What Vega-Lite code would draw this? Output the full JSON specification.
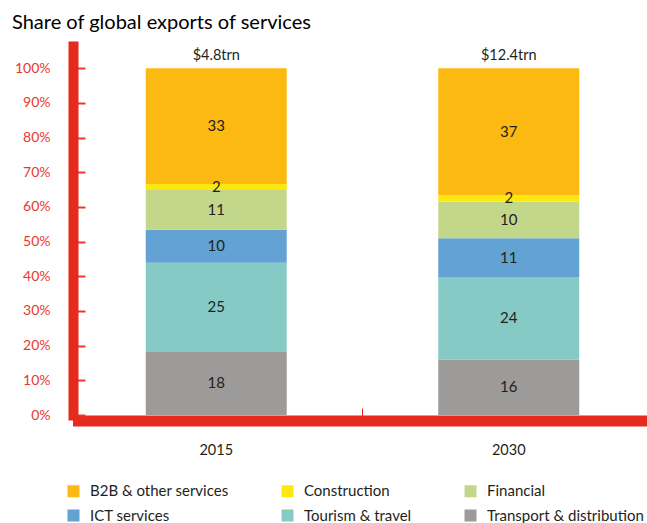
{
  "$schema": "https://vega.github.io/schema/vega-lite/v6.json",
  "width": 569,
  "height": 369,
  "autosize": "none",
  "padding": {"left": 78, "top": 46, "right": 0, "bottom": 108},
  "config": {
    "font": "Lato",
    "view": {"stroke": null},
    "axisY": {"labelOverlap": false, "tickCount": 11}
  },
  "title": {"text": "Share of global exports of services", "anchor": "start", "frame": "group", "fontSize": 20, "fontWeight": "normal", "color": "#000000", "dx": -66, "offset": 13},
  "datasets": {
    "shares": [
      {"year": "2015", "sector": "Transport & distribution", "rank": 1, "share": 18.2, "label": "18"},
      {"year": "2015", "sector": "Tourism & travel", "rank": 2, "share": 25.7, "label": "25"},
      {"year": "2015", "sector": "ICT services", "rank": 3, "share": 9.5, "label": "10"},
      {"year": "2015", "sector": "Financial", "rank": 4, "share": 11.5, "label": "11"},
      {"year": "2015", "sector": "Construction", "rank": 5, "share": 1.7, "label": "2"},
      {"year": "2015", "sector": "B2B & other services", "rank": 6, "share": 33.4, "label": "33"},
      {"year": "2030", "sector": "Transport & distribution", "rank": 1, "share": 15.9, "label": "16"},
      {"year": "2030", "sector": "Tourism & travel", "rank": 2, "share": 23.9, "label": "24"},
      {"year": "2030", "sector": "ICT services", "rank": 3, "share": 11.2, "label": "11"},
      {"year": "2030", "sector": "Financial", "rank": 4, "share": 10.5, "label": "10"},
      {"year": "2030", "sector": "Construction", "rank": 5, "share": 1.9, "label": "2"},
      {"year": "2030", "sector": "B2B & other services", "rank": 6, "share": 36.6, "label": "37"}
    ],
    "totals": [
      {"year": "2015", "top": 100, "total": "$4.8trn"},
      {"year": "2030", "top": 100, "total": "$12.4trn"}
    ]
  },
  "layer": [
    {
      "data": {"name": "shares"},
      "mark": {"type": "bar"},
      "encoding": {
        "x": {
          "field": "year", "type": "nominal",
          "scale": {"paddingInner": 0.518, "paddingOuter": 0.2316},
          "axis": {"title": null, "labelAngle": 0, "offset": 5.5, "domainColor": "#e52b1e", "domainWidth": 11, "domainCap": "square", "bandPosition": 1.537, "tickSize": -12.5, "tickColor": "#e52b1e", "tickWidth": 1, "labelFontSize": 14.5, "labelColor": "#231f20", "labelPadding": 35}
        },
        "y": {
          "field": "share", "type": "quantitative", "stack": "zero",
          "scale": {"domain": [0, 106.43], "nice": false, "zero": true},
          "axis": {"title": null, "values": [0, 10, 20, 30, 40, 50, 60, 70, 80, 90, 100], "labelOverlap": false, "labelExpr": "datum.value + '%'", "offset": 5, "domainColor": "#e52b1e", "domainWidth": 10, "domainCap": "square", "tickColor": "#e8392a", "tickSize": -12, "tickWidth": 2, "labelColor": "#e8392a", "labelFontSize": 14, "labelPadding": 35, "grid": false}
        },
        "color": {
          "field": "sector", "type": "nominal",
          "scale": {
            "domain": ["B2B & other services", "Construction", "Financial", "ICT services", "Tourism & travel", "Transport & distribution"],
            "range": ["#fbb912", "#fde711", "#c3d78a", "#62a3d4", "#86cac6", "#9c9b99"]
          },
          "legend": {"orient": "none", "legendX": -12, "legendY": 437.5, "direction": "horizontal", "columns": 3, "title": null, "symbolType": "square", "symbolSize": 144, "symbolStrokeWidth": 0, "symbolOpacity": 1, "labelFontSize": 15, "labelColor": "#231f20", "labelOffset": 9, "columnPadding": 51, "rowPadding": 8.5}
        },
        "order": {"field": "rank", "type": "quantitative"}
      }
    },
    {
      "data": {"name": "shares"},
      "mark": {"type": "text", "fontSize": 15, "color": "#231f20", "baseline": "middle", "align": "center"},
      "encoding": {
        "x": {
          "field": "year", "type": "nominal",
          "axis": {"title": null, "labelAngle": 0, "offset": 5.5, "domainColor": "#e52b1e", "domainWidth": 11, "domainCap": "square", "bandPosition": 1.537, "tickSize": -12.5, "tickColor": "#e52b1e", "tickWidth": 1, "labelFontSize": 14.5, "labelColor": "#231f20", "labelPadding": 35}
        },
        "y": {
          "field": "share", "type": "quantitative", "stack": "zero", "bandPosition": 0.5,
          "axis": {"title": null, "values": [0, 10, 20, 30, 40, 50, 60, 70, 80, 90, 100], "labelOverlap": false, "labelExpr": "datum.value + '%'", "offset": 5, "domainColor": "#e52b1e", "domainWidth": 10, "domainCap": "square", "tickColor": "#e8392a", "tickSize": -12, "tickWidth": 2, "labelColor": "#e8392a", "labelFontSize": 14, "labelPadding": 35, "grid": false}
        },
        "detail": {"field": "sector"},
        "order": {"field": "rank", "type": "quantitative"},
        "text": {"field": "label"}
      }
    },
    {
      "data": {"name": "totals"},
      "mark": {"type": "text", "fontSize": 14.5, "color": "#231f20", "baseline": "alphabetic", "align": "center", "dy": -8},
      "encoding": {
        "x": {
          "field": "year", "type": "nominal",
          "axis": {"title": null, "labelAngle": 0, "offset": 5.5, "domainColor": "#e52b1e", "domainWidth": 11, "domainCap": "square", "bandPosition": 1.537, "tickSize": -12.5, "tickColor": "#e52b1e", "tickWidth": 1, "labelFontSize": 14.5, "labelColor": "#231f20", "labelPadding": 35}
        },
        "y": {
          "field": "top", "type": "quantitative",
          "axis": {"title": null, "values": [0, 10, 20, 30, 40, 50, 60, 70, 80, 90, 100], "labelOverlap": false, "labelExpr": "datum.value + '%'", "offset": 5, "domainColor": "#e52b1e", "domainWidth": 10, "domainCap": "square", "tickColor": "#e8392a", "tickSize": -12, "tickWidth": 2, "labelColor": "#e8392a", "labelFontSize": 14, "labelPadding": 35, "grid": false}
        },
        "text": {"field": "total"}
      }
    }
  ]
}
